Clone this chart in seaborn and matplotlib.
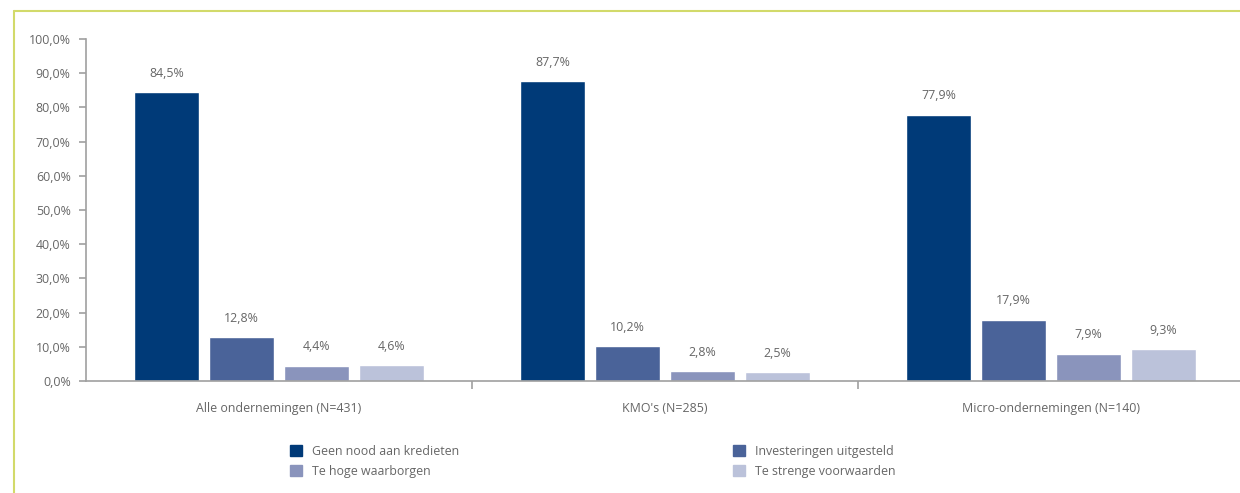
import matplotlib
matplotlib.use("Agg")
import matplotlib.pyplot as plt
import matplotlib.patches as mpatches
from matplotlib.lines import Line2D
from matplotlib.ticker import FixedLocator, FuncFormatter
import seaborn as sns
import pandas as pd

groups = ["Alle ondernemingen (N=431)", "KMO's (N=285)", "Micro-ondernemingen (N=140)"]
series = ["Geen nood aan kredieten", "Investeringen uitgesteld",
          "Te hoge waarborgen", "Te strenge voorwaarden"]
geen_nood = [84.5, 87.7, 77.9]
investeringen = [12.8, 10.2, 17.9]
te_hoge = [4.4, 2.8, 7.9]
te_strenge = [4.6, 2.5, 9.3]
yticks = [0, 10, 20, 30, 40, 50, 60, 70, 80, 90, 100]

colors = ["#003A78", "#4A6399", "#8A94BC", "#BBC2DA"]
text_color = "#666666"
axis_color = "#A0A0A0"

rows = []
for name, vals in zip(series, [geen_nood, investeringen, te_hoge, te_strenge]):
    for g, v in zip(groups, vals):
        rows.append({"groep": g, "reeks": name, "waarde": v})
df = pd.DataFrame(rows)

sns.set_style("white")
plt.rcParams["font.family"] = ["Open Sans", "DejaVu Sans"]
fs = 8.9
plt.rcParams["font.size"] = fs

W, H = 1240, 493
fig = plt.figure(figsize=(W / 100, H / 100), dpi=100)
ax = fig.add_axes([86 / W, (H - 381) / H, (1244 - 86) / W, (381 - 39) / H])

sns.barplot(data=df, x="groep", y="waarde", hue="reeks", order=groups,
            hue_order=series, palette=colors, width=0.777, gap=0.13,
            saturation=1, ax=ax, legend=False)

ax.set_xlim(-0.5, 2.5)
ax.set_ylim(0, 100)
ax.set_xlabel("")
ax.set_ylabel("")

for cont in ax.containers:
    labels = [f"{b.get_height():.1f}".replace(".", ",") + "%" for b in cont]
    ax.bar_label(cont, labels=labels, padding=9, color=text_color, fontsize=fs)

for s in ["top", "right"]:
    ax.spines[s].set_visible(False)
for s in ["left", "bottom"]:
    ax.spines[s].set_color(axis_color)
    ax.spines[s].set_linewidth(1.2)

ax.yaxis.set_major_locator(FixedLocator(yticks))
ax.yaxis.set_major_formatter(FuncFormatter(lambda v, p: f"{v:.1f}".replace(".", ",") + "%"))
ax.tick_params(axis="y", length=5, width=1.2, color=axis_color, colors=text_color,
               pad=6, direction="out", left=True)
ax.tick_params(axis="x", which="major", length=0, pad=15, colors=text_color)
ax.set_xticks([0.5, 1.5], minor=True)
ax.tick_params(axis="x", which="minor", length=6, width=1.2, color=axis_color,
               direction="out", bottom=True)
for lbl in ax.get_yticklabels() + ax.get_xticklabels():
    lbl.set_color(text_color)

handles = [mpatches.Patch(color=c, label=s) for c, s in zip(colors, series)]
leg_kw = dict(frameon=False, fontsize=fs, labelcolor=text_color, handlelength=0.95,
              handleheight=0.95, handletextpad=0.85, labelspacing=0.55,
              borderaxespad=0, borderpad=0, loc="upper left")
fig.legend(handles=[handles[0], handles[2]], bbox_to_anchor=(290 / W, 1 - 445 / H), **leg_kw)
fig.legend(handles=[handles[1], handles[3]], bbox_to_anchor=(733 / W, 1 - 445 / H), **leg_kw)

# thin lime frame along the top and left edges
frame_color = "#D2DA6A"
fig.add_artist(Line2D([14 / W, 1.0], [1 - 11 / H, 1 - 11 / H], color=frame_color,
                      lw=1.5, transform=fig.transFigure))
fig.add_artist(Line2D([14 / W, 14 / W], [1 - 11 / H, 0], color=frame_color,
                      lw=1.5, transform=fig.transFigure))

fig.savefig("out.png", dpi=100)
